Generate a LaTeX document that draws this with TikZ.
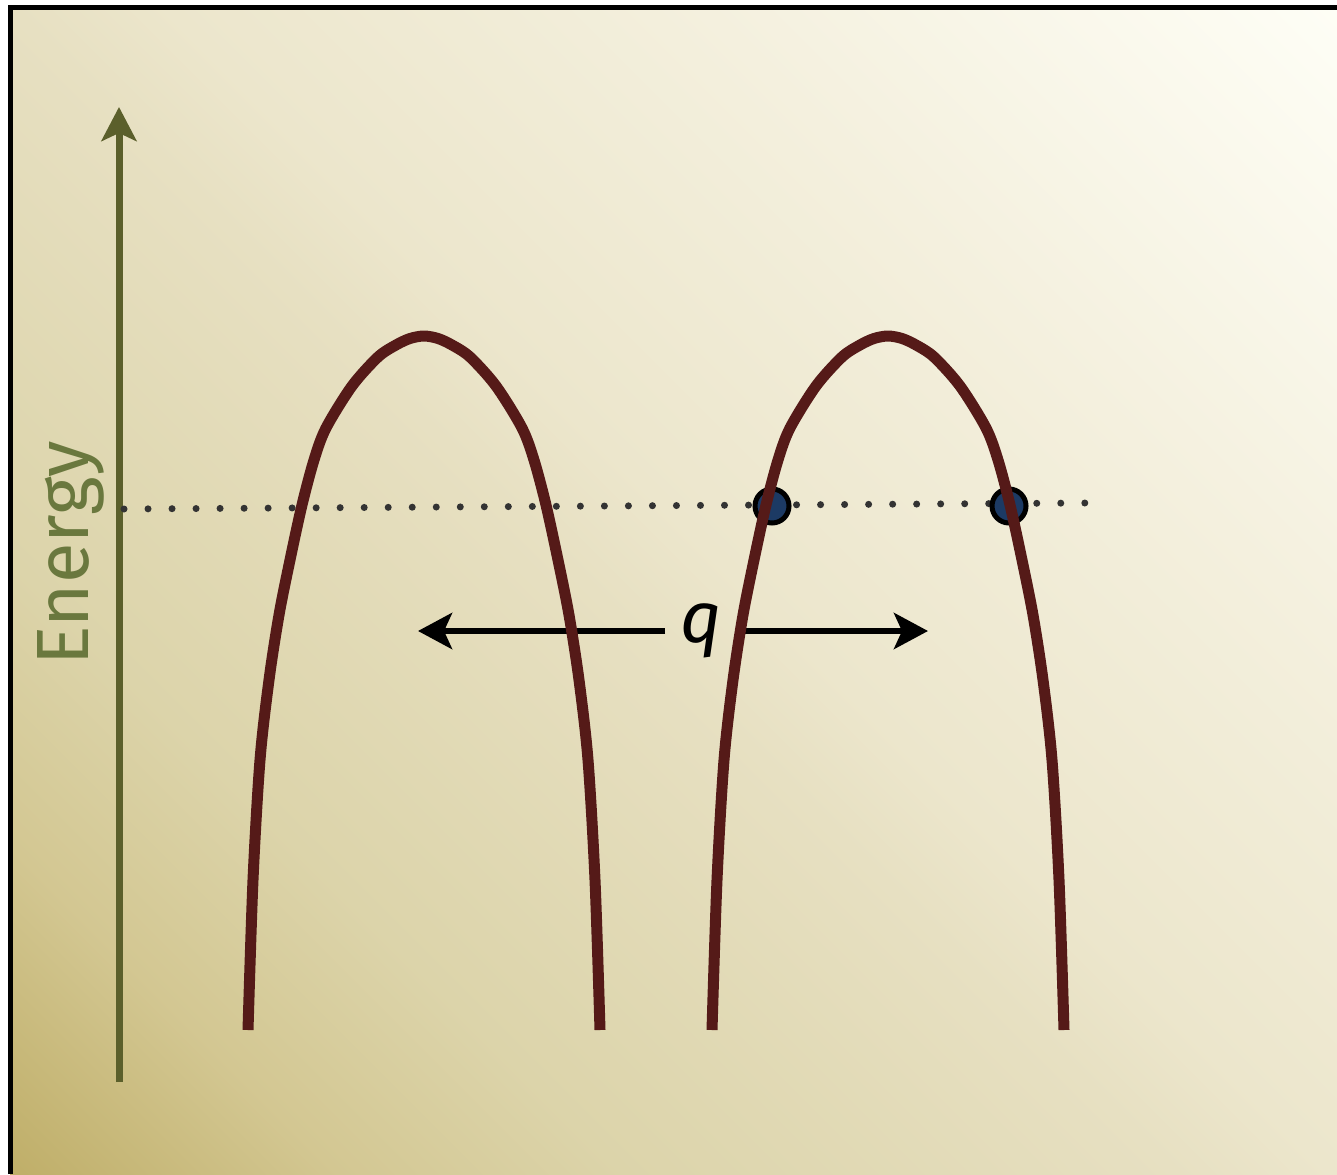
\documentclass[tikz,border=0pt]{standalone}
\usepackage{fontspec}
\setmainfont{Fira Sans}
\usetikzlibrary{arrows.meta}
\definecolor{bgA}{HTML}{BFAE68}
\definecolor{bgB}{HTML}{D3C792}
\definecolor{bgC}{HTML}{DCD4AA}
\definecolor{bgD}{HTML}{E7E0C2}
\definecolor{bgE}{HTML}{ECE6CC}
\definecolor{bgF}{HTML}{F4F0DE}
\definecolor{bgG}{HTML}{FEFEF6}
\pgfdeclarehorizontalshading{bgshade}{100bp}{color(0bp)=(bgA); color(16.8bp)=(bgA); color(25.6bp)=(bgB); color(33.2bp)=(bgC); color(47.9bp)=(bgD); color(52bp)=(bgE); color(66.3bp)=(bgF); color(83.2bp)=(bgG); color(100bp)=(bgG)}
\definecolor{axiscol}{HTML}{5B5F2B}
\definecolor{labelcol}{HTML}{6A783E}
\definecolor{curvecol}{HTML}{551A18}
\definecolor{dotcol}{HTML}{333333}
\definecolor{ballcol}{HTML}{1C3A64}
\tikzset{
  curvestyle/.style={draw=curvecol, line width=11pt, line join=round},
  dotline/.style={draw=dotcol, line width=7pt, line cap=round, dash pattern=on 0pt off 24.02pt},
  ballstyle/.style={circle, draw=black, line width=5pt, fill=ballcol, minimum size=34pt, inner sep=0pt},
  axisstyle/.style={draw=axiscol, line width=7pt, -{Stealth[length=34pt, width=35pt, inset=8pt]}},
  qarrow/.style={draw=black, line width=6pt, -{Stealth[length=34pt, width=36pt, inset=8pt]}},
}
\newcommand\parabpts{(-176,1030) (-171,880) (-164,760) (-155,680) (-145,615) (-134,560) (-122,505) (-110,460) (-98,428) (-72,386) (-46,357) (-28,345) (-14,338.5) (0,336) (14,338.5) (28,345) (46,357) (72,386) (98,428) (110,460) (122,505) (134,560) (145,615) (155,680) (164,760) (171,880) (176,1030)}
\begin{document}
\begin{tikzpicture}[x=1pt, y=-1pt]
\useasboundingbox (0,0) rectangle (1337,1174);
\fill[white] (0,0) rectangle (1337,1174);
\begin{scope}
\clip (10,7) rectangle (1337,1174);
\shade[shading=bgshade, shading angle=45] (5,-78) rectangle (1342,1259);
\end{scope}
\draw[black, line width=5pt] (10.5,1174) -- (10.5,7.5) -- (1337,7.5);

% energy axis
\coordinate (axbot) at (119,1082);
\coordinate (axtop) at (119,107);
\draw[axisstyle] (axbot) -- (axtop);
\node[rotate=90, anchor=base, text=labelcol, font=\fontsize{74}{80}\selectfont, inner sep=0pt] (elabel) at (88,553.5) {Energy};

% dotted energy level
\coordinate (dl) at (124,509);
\coordinate (dr) at (1085,503);
\draw[dotline] (dl) -- (dr);

% q arrow
\node[font=\fontsize{72}{76}\selectfont\itshape, inner xsep=15pt, inner ysep=0pt] (q) at (701,631) {q};
\coordinate (qleft) at (418,631);
\coordinate (qright) at (928,631);
\draw[qarrow] (q.west |- qleft) -- (qleft);
\draw[qarrow] (q.east |- qright) -- (qright);

% balls
\node[ballstyle] (b1) at (772,506) {};
\node[ballstyle] (b2) at (1009,506) {};

% curves
\begin{scope}[shift={(424,0)}]
\draw[curvestyle] plot[smooth, tension=0.5] coordinates {\parabpts};
\end{scope}
\begin{scope}[shift={(888,0)}]
\draw[curvestyle] plot[smooth, tension=0.5] coordinates {\parabpts};
\end{scope}
\end{tikzpicture}
\end{document}
